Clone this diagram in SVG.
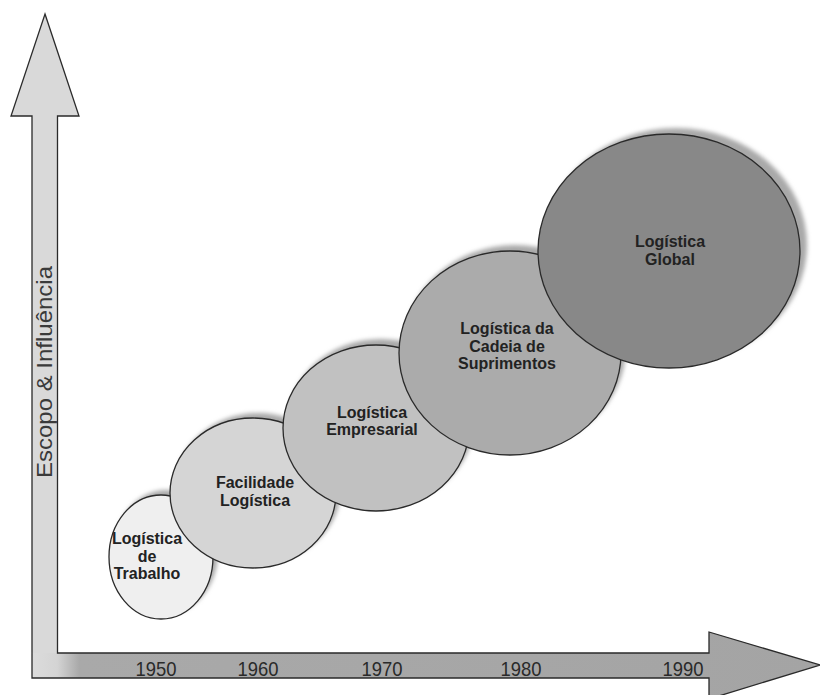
<svg xmlns="http://www.w3.org/2000/svg" width="820" height="695" viewBox="0 0 820 695">
<defs>
<filter id="blur" x="-10%" y="-10%" width="120%" height="120%"><feGaussianBlur stdDeviation="2"/></filter>
<linearGradient id="hgrad" gradientUnits="userSpaceOnUse" x1="32" y1="0" x2="820" y2="0">
<stop offset="0" stop-color="#dcdcdc"/>
<stop offset="0.032" stop-color="#d4d4d4"/>
<stop offset="0.06" stop-color="#a9a9a9"/>
<stop offset="1" stop-color="#a4a4a4"/>
</linearGradient>
<style>
.shadow{fill:#a9a9a9;filter:url(#blur)}
.node{stroke:#2a2a2a;stroke-width:1.3}
.lbl{font-family:"Liberation Sans",Arial,sans-serif;font-weight:bold;font-size:16px;fill:#222;text-anchor:middle}
.year{font-family:"Liberation Sans",Arial,sans-serif;font-size:21px;fill:#2a2a2a;text-anchor:middle}
.axis{font-family:"Liberation Sans",Arial,sans-serif;font-size:22px;fill:#3a3a3a;text-anchor:middle}
</style>
</defs>
<rect width="820" height="695" fill="#ffffff"/>
<g id="axes">
<polygon points="32,653 709,653 709,632 820,665 709,699 709,678 32,678" fill="url(#hgrad)"/>
<polygon points="45,14 79,116 57.5,116 57.5,653 32,653 32,116 11,116" fill="#d9d9d9"/>
<path d="M45,14 L79,116 L57.5,116 L57.5,653 L709,653 L709,632 L820,665 L709,699 L709,678 L32,678 L32,116 L11,116 Z" fill="none" stroke="#2a2a2a" stroke-width="1.3" stroke-linejoin="miter"/>
<text class="axis" transform="translate(52,372) rotate(-90)" textLength="212" lengthAdjust="spacingAndGlyphs">Escopo &amp; Influência</text>
<text class="year" x="156" y="676" textLength="41" lengthAdjust="spacingAndGlyphs">1950</text>
<text class="year" x="258" y="676" textLength="41" lengthAdjust="spacingAndGlyphs">1960</text>
<text class="year" x="382" y="676" textLength="41" lengthAdjust="spacingAndGlyphs">1970</text>
<text class="year" x="521" y="676" textLength="41" lengthAdjust="spacingAndGlyphs">1980</text>
<text class="year" x="683" y="676" textLength="41" lengthAdjust="spacingAndGlyphs">1990</text>
</g>
<g id="connectors"></g>
<g id="n1">
<ellipse class="shadow" cx="166" cy="552" rx="52" ry="62"/>
<ellipse class="node" cx="161" cy="557" rx="52" ry="62" fill="#efefef"/>
<text class="lbl" x="147" y="544">Logística</text>
<text class="lbl" x="147" y="562">de</text>
<text class="lbl" x="147" y="579">Trabalho</text>
</g>
<g id="n2">
<ellipse class="shadow" cx="258" cy="488" rx="83" ry="75"/>
<ellipse class="node" cx="253" cy="493" rx="83" ry="75" fill="#d5d5d5"/>
<text class="lbl" x="255" y="488">Facilidade</text>
<text class="lbl" x="255" y="506">Logística</text>
</g>
<g id="n3">
<ellipse class="shadow" cx="381" cy="422" rx="93" ry="83"/>
<ellipse class="node" cx="376" cy="428" rx="93" ry="83" fill="#c1c1c1"/>
<text class="lbl" x="372" y="418">Logística</text>
<text class="lbl" x="372" y="435">Empresarial</text>
</g>
<g id="n4">
<ellipse class="shadow" cx="515" cy="347" rx="111" ry="102"/>
<ellipse class="node" cx="510" cy="353" rx="111" ry="102" fill="#ababab"/>
<text class="lbl" x="507" y="334">Logística da</text>
<text class="lbl" x="507" y="352">Cadeia de</text>
<text class="lbl" x="507" y="369">Suprimentos</text>
</g>
<g id="n5">
<ellipse class="shadow" cx="676" cy="245" rx="131" ry="117"/>
<ellipse class="node" cx="669" cy="251" rx="131" ry="117" fill="#888888"/>
<text class="lbl" x="670" y="247">Logística</text>
<text class="lbl" x="670" y="265">Global</text>
</g>
</svg>
